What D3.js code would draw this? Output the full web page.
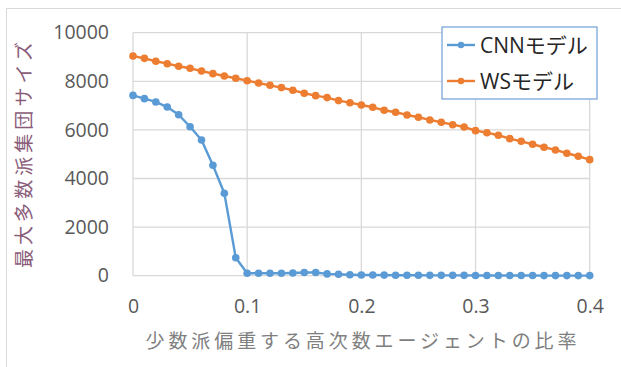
<!DOCTYPE html>
<html>
<head>
<meta charset="utf-8">
<script src="https://cdn.jsdelivr.net/npm/d3@7"></script>
<style>
  html, body { margin: 0; padding: 0; background: #fff; }
  svg { display: block; }
</style>
</head>
<body>
<svg id="chart" width="621" height="367"></svg>
<script>
// Share of high-degree agents biased toward the minority (0 .. 0.4, step 0.01)
const ratios = d3.range(0, 41).map(i => +(i * 0.01).toFixed(2));

// Largest majority-group size, CNN model
const cnnValues = [
  7420, 7285, 7150, 6940, 6625, 6130, 5585, 4545, 3390, 740,
  100, 100, 100, 100, 110, 130, 130, 75, 60, 40,
  30, 30, 25, 20, 20, 20, 15, 15, 15, 15,
  10, 10, 10, 10, 10, 10, 5, 5, 5, 5, 5
];

// Largest majority-group size, WS model
const wsValues = [
  9040, 8945, 8825, 8725, 8620, 8535, 8425, 8315, 8220, 8125,
  8025, 7930, 7835, 7740, 7630, 7510, 7410, 7330, 7205, 7120,
  7025, 6930, 6810, 6725, 6615, 6520, 6410, 6315, 6215, 6120,
  5970, 5885, 5780, 5640, 5530, 5410, 5285, 5175, 5040, 4915, 4775
];

const xTicks = [0, 0.1, 0.2, 0.3, 0.4];
const yTicks = [0, 2000, 4000, 6000, 8000, 10000];

const seriesNames = ["CNNモデル", "WSモデル"];
const seriesColors = ["#5b9bd5", "#ed7d31"];

const svg = d3.select("#chart");

// chart-area frame
svg.append("rect")
  .attr("x", 6.5).attr("y", 8.5)
  .attr("width", 640).attr("height", 400)
  .attr("fill", "#fff")
  .attr("stroke", "#d9d9d9");

const x = d3.scaleLinear().domain([0, 0.4]).range([133, 589.7]);
const y = d3.scaleLinear().domain([0, 10000]).range([275.7, 32.7]);

const grid = svg.append("g");
grid.selectAll("line.h").data(yTicks).join("line")
  .attr("class", "h")
  .attr("x1", x(0)).attr("x2", x(0.4))
  .attr("y1", d => y(d)).attr("y2", d => y(d))
  .attr("stroke", "#d9d9d9").attr("stroke-width", 1.3);
grid.selectAll("line.v").data(xTicks).join("line")
  .attr("class", "v")
  .attr("x1", d => x(d)).attr("x2", d => x(d))
  .attr("y1", y(0)).attr("y2", y(10000))
  .attr("stroke", "#d9d9d9").attr("stroke-width", 1.3);

// axes (labels only)
const yAxis = svg.append("g")
  .attr("transform", `translate(${x(0)},0)`)
  .call(d3.axisLeft(y).tickValues(yTicks).tickSize(0).tickPadding(24).tickFormat(d3.format("d")));
yAxis.select(".domain").remove();
yAxis.selectAll("text")
  .attr("fill", "#595959")
  .style("font-family", "'Open Sans', 'Liberation Sans', sans-serif")
  .style("font-size", "19.5px");

const xAxis = svg.append("g")
  .attr("transform", `translate(0,${y(0)})`)
  .call(d3.axisBottom(x).tickValues(xTicks).tickSize(0).tickPadding(23).tickFormat(d => d === 0 ? "0" : d3.format(".1f")(d)));
xAxis.select(".domain").remove();
xAxis.selectAll("text")
  .attr("fill", "#595959")
  .style("font-family", "'Open Sans', 'Liberation Sans', sans-serif")
  .style("font-size", "19.5px");

// series
const series = [cnnValues, wsValues];
const line = d3.line().x((d, i) => x(ratios[i])).y(d => y(d));

series.forEach((vals, s) => {
  const g = svg.append("g");
  g.append("path")
    .datum(vals)
    .attr("d", line)
    .attr("fill", "none")
    .attr("stroke", seriesColors[s])
    .attr("stroke-width", 2.4)
    .attr("stroke-linejoin", "round");
  g.selectAll("circle").data(vals).join("circle")
    .attr("cx", (d, i) => x(ratios[i]))
    .attr("cy", d => y(d))
    .attr("r", 3.8)
    .attr("fill", seriesColors[s]);
});

// axis titles
svg.append("text")
  .attr("transform", `translate(31,155) rotate(-90)`)
  .attr("text-anchor", "middle")
  .attr("fill", "#8a5c7a")
  .attr("textLength", 226)
  .attr("lengthAdjust", "spacing")
  .style("font-family", "'Noto Sans CJK JP', sans-serif")
  .style("font-size", "19px")
  .text("最大多数派集団サイズ");

svg.append("text")
  .attr("x", 361).attr("y", 348)
  .attr("text-anchor", "middle")
  .attr("fill", "#7f7f7f")
  .attr("textLength", 431)
  .attr("lengthAdjust", "spacing")
  .style("font-family", "'Noto Sans CJK JP', sans-serif")
  .style("font-size", "19px")
  .text("少数派偏重する高次数エージェントの比率");

// legend
const legend = svg.append("g");
legend.append("rect")
  .attr("x", 442).attr("y", 27)
  .attr("width", 155).attr("height", 72)
  .attr("fill", "#fff")
  .attr("stroke", "#7aa7d8")
  .attr("stroke-width", 1.3);

const rowsY = [45, 81];
seriesNames.forEach((name, s) => {
  legend.append("line")
    .attr("x1", 447).attr("x2", 475)
    .attr("y1", rowsY[s]).attr("y2", rowsY[s])
    .attr("stroke", seriesColors[s]).attr("stroke-width", 2.4);
  legend.append("circle")
    .attr("cx", 461).attr("cy", rowsY[s]).attr("r", 3.2)
    .attr("fill", seriesColors[s]);
  legend.append("text")
    .attr("x", 480).attr("y", rowsY[s])
    .attr("dy", "0.36em")
    .attr("fill", "#262626")
    .style("font-family", "'Open Sans', 'Noto Sans CJK JP', sans-serif")
    .style("font-size", "21px")
    .text(name);
});
</script>
</body>
</html>
